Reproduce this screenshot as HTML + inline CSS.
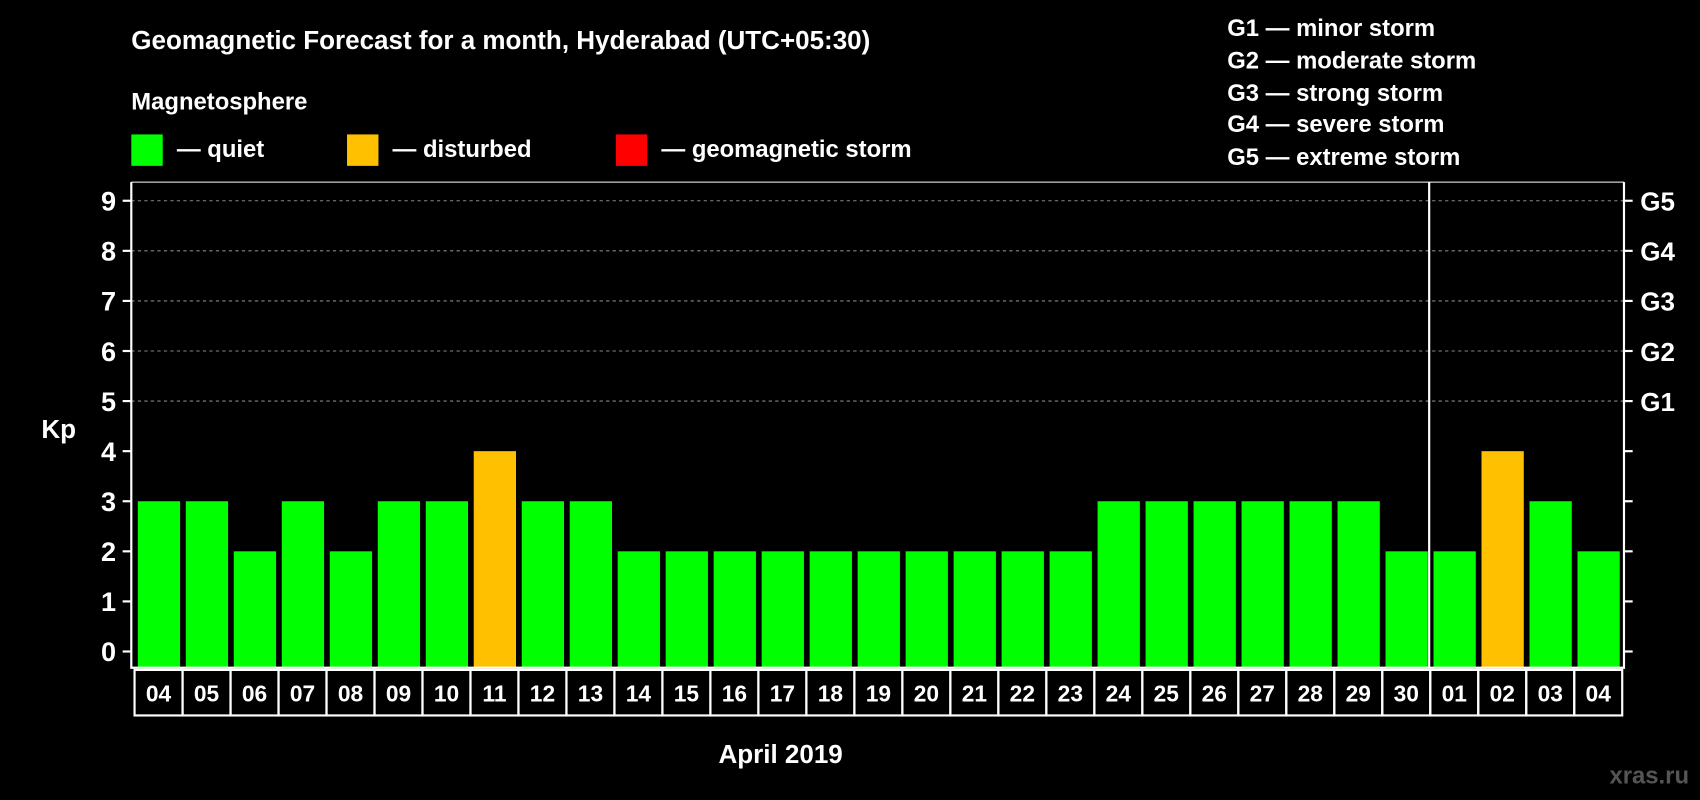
<!DOCTYPE html>
<html><head><meta charset="utf-8"><style>
html,body{margin:0;padding:0;background:#000;}
svg{display:block;font-family:"Liberation Sans",Arial,sans-serif;font-weight:bold;}
</style></head><body>
<svg id="chart" width="1700" height="800" viewBox="0 0 1568 738" xmlns="http://www.w3.org/2000/svg">
<rect width="1568" height="738" fill="#000"/>
<text x="121" y="45" fill="#fff" font-size="24">Geomagnetic Forecast for a month, Hyderabad (UTC+05:30)</text>
<text x="121" y="101" fill="#fff" font-size="22">Magnetosphere</text>
<g><rect x="121" y="124" width="29" height="29" fill="#00ff00"/><text x="163" y="145" fill="#fff" font-size="22">— quiet</text></g>
<g><rect x="320" y="124" width="29" height="29" fill="#ffc000"/><text x="362" y="145" fill="#fff" font-size="22">— disturbed</text></g>
<g><rect x="568" y="124" width="29" height="29" fill="#ff0000"/><text x="610" y="145" fill="#fff" font-size="22">— geomagnetic storm</text></g>
<g fill="#fff" font-size="22">
<text x="1132" y="33">G1 — minor storm</text>
<text x="1132" y="63">G2 — moderate storm</text>
<text x="1132" y="93">G3 — strong storm</text>
<text x="1132" y="122">G4 — severe storm</text>
<text x="1132" y="152">G5 — extreme storm</text>
</g>
<text x="38" y="404" fill="#fff" font-size="24">Kp</text>
<text x="720" y="704" fill="#fff" font-size="24" text-anchor="middle">April 2019</text>
<text x="1558" y="723" fill="#555" font-size="22" text-anchor="end">xras.ru</text>
<g id="grid"></g><g id="bars"></g><g id="axes"></g><g id="labels"></g>
</svg>
<script>
const categories=["04","05","06","07","08","09","10","11","12","13","14","15","16","17","18","19","20","21","22","23","24","25","26","27","28","29","30","01","02","03","04"];
const kpValues=[3,3,2,3,2,3,3,4,3,3,2,2,2,2,2,2,2,2,2,2,3,3,3,3,3,3,2,2,4,3,2];
const yTicks=[0,1,2,3,4,5,6,7,8,9];
const gLabels=["","","","","","G1","G2","G3","G4","G5"];
const NS="http://www.w3.org/2000/svg";
const L=121,R=1498,T=168,B=616,Y0=601,UNIT=46.2,STEP=44.27,X0=124;
const y=v=>Y0-v*UNIT;
const x=i=>X0+i*STEP;
function mk(tag,attrs,parent){const e=document.createElementNS(NS,tag);for(const k in attrs)e.setAttribute(k,attrs[k]);document.getElementById(parent).appendChild(e);return e;}
yTicks.forEach((t,i)=>{
  if(t>=5){const g=mk('line',{x1:L,x2:R,y1:y(t),y2:y(t),stroke:'#888','stroke-dasharray':'3,3','stroke-width':1},'grid');
  
  }
  const tl=mk('line',{x1:L-8,x2:L,y1:y(t),y2:y(t),stroke:'#fff','stroke-width':2},'axes');
  
  
  const tr=mk('line',{x1:R,x2:R+8,y1:y(t),y2:y(t),stroke:'#fff','stroke-width':2},'axes');
  
  
  const lb=mk('text',{x:L-14,y:y(t)+9,fill:'#fff','font-size':25,'text-anchor':'end'},'labels');
  lb.textContent=t;
  
  
  if(gLabels[i]){const gl=mk('text',{x:R+15,y:y(t)+9,fill:'#fff','font-size':24},'labels');
  gl.textContent=gLabels[i];
  
  }
});
kpValues.forEach((v,i)=>{
  const col=v>=5?'#ff0000':(v>=4?'#ffc000':'#00ff00');
  const b=mk('rect',{x:x(i)+3,y:y(v),width:39,height:B-y(v),fill:col},'bars');
  
  
  const c=mk('rect',{x:x(i),y:618,width:STEP,height:42,fill:'none',stroke:'#fff','stroke-width':2},'axes');
  
  
  const t=mk('text',{x:x(i)+STEP/2,y:647,fill:'#fff','font-size':21,'text-anchor':'middle'},'labels');
  t.textContent=categories[i];
  
  
});
const fr=mk('path',{d:`M${L},${T} V${B} H${R} V${T}`,fill:'none',stroke:'#fff','stroke-width':2},'axes');


const tp=mk('line',{x1:L,x2:R,y1:T,y2:T,stroke:'#fff','stroke-width':1},'axes');


const ml=mk('line',{x1:x(27)-1,x2:x(27)-1,y1:T,y2:B,stroke:'#fff','stroke-width':2},'axes');


</script>
</body></html>
